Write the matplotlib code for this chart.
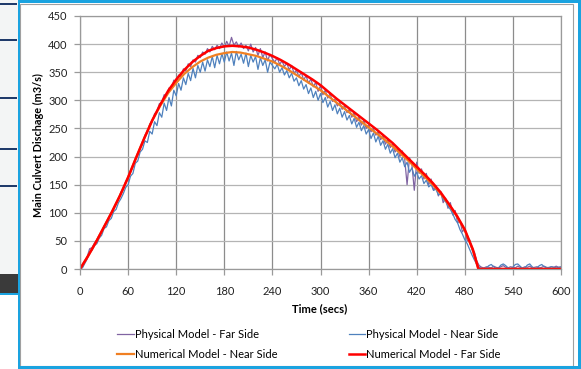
import matplotlib
matplotlib.use('Agg')
import matplotlib.pyplot as plt
from matplotlib.patches import Rectangle
import numpy as np

plt.rcParams['font.family'] = ['Lato', 'DejaVu Sans']

# physical model samples, every 3 secs from 0 to 600
t_phys = np.arange(0, 601, 3)

far_side = [
    0, 3, 12, 22, 36, 38, 46, 52, 60, 66, 76, 82, 92, 100, 108, 116, 125, 136, 142, 155,
    162, 172, 182, 196, 202, 216, 222, 238, 242, 258, 262, 276, 280, 294, 296, 310, 308, 322, 320, 336,
    332, 345, 342, 356, 352, 365, 360, 372, 368, 380, 376, 386, 382, 392, 386, 396, 390, 398, 392, 402,
    394, 405, 396, 412, 398, 404, 395, 402, 392, 398, 388, 400, 386, 394, 380, 392, 376, 386, 370, 382,
    374, 368, 376, 364, 370, 360, 366, 354, 362, 348, 354, 342, 350, 336, 344, 330, 338, 324, 332, 316,
    326, 310, 318, 304, 312, 298, 302, 290, 296, 284, 290, 278, 284, 270, 278, 262, 270, 256, 264, 250,
    256, 244, 250, 238, 244, 230, 236, 222, 230, 216, 222, 208, 214, 200, 210, 196, 150, 198, 186, 140,
    190, 170, 178, 160, 170, 150, 160, 140, 148, 130, 138, 118, 126, 108, 118, 96, 104, 82, 86, 66,
    72, 50, 52, 34, 30, 14, 6, 3, 2, 4, 3, 2, 5, 3, 2, 4, 6, 3, 2, 4,
    3, 2, 5, 3, 2, 4, 3, 5, 2, 3, 4, 2, 3, 5, 3, 2, 4, 3, 5, 3,
    4,
]

near_side = [
    0, 2, 10, 18, 30, 33, 42, 45, 55, 60, 72, 75, 86, 90, 102, 106, 118, 125, 134, 145,
    150, 165, 170, 188, 192, 208, 213, 228, 225, 245, 240, 262, 255, 278, 270, 295, 282, 305, 290, 318,
    308, 330, 318, 340, 328, 348, 335, 357, 340, 362, 350, 368, 352, 372, 360, 378, 358, 380, 365, 383,
    368, 386, 370, 384, 362, 387, 372, 382, 366, 384, 360, 380, 368, 378, 355, 376, 362, 372, 350, 368,
    362, 356, 364, 350, 358, 345, 353, 340, 348, 334, 340, 326, 335, 320, 328, 312, 322, 305, 316, 300,
    312, 296, 305, 288, 298, 282, 292, 276, 286, 270, 280, 265, 273, 258, 268, 252, 261, 246, 255, 240,
    248, 232, 242, 226, 236, 220, 228, 213, 222, 206, 214, 198, 206, 190, 198, 182, 190, 172, 180, 165,
    172, 160, 166, 152, 158, 146, 150, 140, 142, 132, 134, 124, 120, 112, 106, 98, 88, 82, 70, 62,
    52, 45, 35, 25, 16, 8, 3, 1, 0, 2, 6, 8, 4, 1, 2, 7, 9, 6, 2, 1,
    3, 8, 9, 5, 1, 2, 7, 9, 4, 1, 2, 6, 8, 4, 2, 3, 4, 3, 2, 3,
    3,
]

# numerical model results
t_num = [0, 10, 20, 30, 40, 50, 60, 70, 80, 90, 100, 110, 120, 130, 140, 150, 160, 170, 180, 190,
         200, 210, 220, 230, 240, 250, 260, 270, 280, 290, 300, 310, 320, 330, 340, 350, 360, 370, 380, 390,
         400, 410, 420, 430, 440, 450, 460, 470, 480, 490, 497, 500, 550, 600]

num_far = [0, 23, 48, 75, 102, 131, 163, 198, 232, 264, 292, 317, 337, 354, 368, 379, 388, 393, 396, 397,
           396, 394, 390, 385, 379, 372, 364, 355, 346, 337, 327, 315, 303, 292, 281, 270, 259, 248, 236, 224,
           210, 196, 182, 168, 153, 136, 116, 95, 70, 35, 0, 0, 0, 0]

num_near = [0, 23, 48, 75, 102, 131, 163, 198, 232, 264, 290, 313, 331, 347, 359, 369, 376, 381, 384, 386,
            385, 382, 379, 374, 369, 362, 354, 345, 336, 327, 318, 307, 296, 285, 274, 263, 252, 241, 230, 218,
            205, 192, 178, 164, 150, 134, 115, 94, 69, 34, 0, 0, 0, 0]

W, H = 581, 369
fig = plt.figure(figsize=(W / 100, H / 100), dpi=100)

def px(x0, y0, w, h, **kw):
    # rectangle in pixel coords (from top-left)
    fig.add_artist(Rectangle((x0 / W, 1 - (y0 + h) / H), w / W, h / H,
                             transform=fig.transFigure, **kw))

# bits of the screenshot to the left of the chart
px(0, 0, 17.5, 293, color='#f3f5f5', lw=0)
px(0, 274, 17.5, 19, color='#3a3a3a', lw=0)
for yy in [3, 39, 97, 148, 185]:
    px(0, yy, 17, 1.5, color='#1f3b6b', lw=0)
px(0, 293, 17.5, 1.5, color='#1aa3e0', lw=0)

# chart frame
px(20, 3.5, 553, 362, fill=False, ec='#a0a0a0', lw=0.8)
px(17.5, 0, 2.5, 369, color='#1aa3e0', lw=0)
px(17.5, 0, 563.5, 3, color='#1aa3e0', lw=0)
px(577.5, 0, 3.5, 369, color='#1aa3e0', lw=0)
px(17.5, 366, 563.5, 3, color='#1aa3e0', lw=0)

ax = fig.add_axes([80 / W, 1 - 269 / H, 481 / W, 253 / H])

l1, = ax.plot(t_phys, far_side, color='#8064a2', lw=0.9)
l2, = ax.plot(t_phys, near_side, color='#4f81bd', lw=0.9)
l3, = ax.plot(t_num, num_near, color='#f07f22', lw=1.6)
l4, = ax.plot(t_num, num_far, color='#ff0000', lw=1.8)

ax.set_xlim(0, 600)
ax.set_ylim(0, 450)
ax.set_xticks(range(0, 601, 60))
ax.set_yticks(range(0, 451, 50))
ax.grid(axis='x', color='#8c8c8c', lw=0.9)
ax.grid(axis='y', color='#b4b4b4', lw=0.9)
ax.set_axisbelow(True)
for s in ax.spines.values():
    s.set_color('#9a9a9a')
    s.set_linewidth(0.9)
ax.tick_params(axis='both', colors='#9a9a9a', length=4, width=0.9, labelcolor='#222222', labelsize=8)
ax.tick_params(axis='x', pad=8)
ax.tick_params(axis='y', pad=5)

fig.text(320 / W, 1 - 309 / H, 'Time (secs)', ha='center', va='center',
         fontsize=8, fontweight='bold')
fig.text(38 / W, 1 - 145 / H, 'Main Culvert Dischage (m3/s)', ha='center', va='center',
         rotation=90, fontsize=7.8, fontweight='bold')

fig.legend([l1, l3, l2, l4],
           ['Physical Model - Far Side', 'Numerical Model - Near Side',
            'Physical Model - Near Side', 'Numerical Model - Far Side'],
           ncol=2, loc='center', bbox_to_anchor=(309 / W, 1 - 344.5 / H),
           frameon=False, fontsize=8, handlelength=1.5, handletextpad=0.1,
           columnspacing=6.4, labelspacing=0.75)

fig.savefig('out.png', dpi=100)
